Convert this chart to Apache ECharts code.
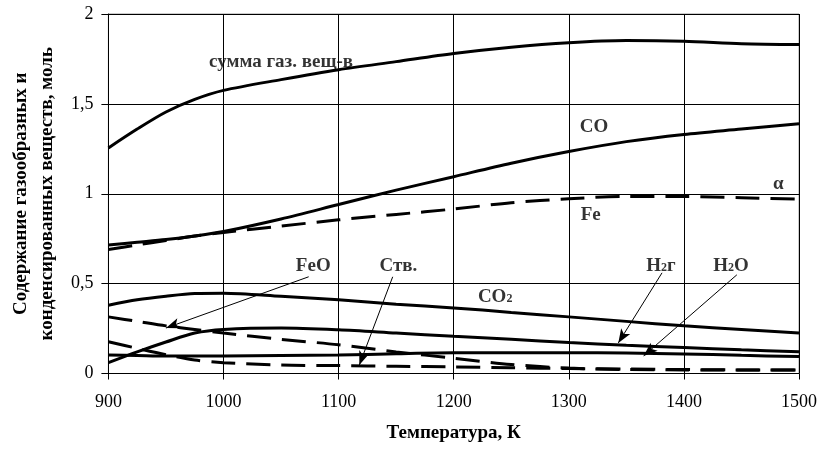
<!DOCTYPE html>
<html><head><meta charset="utf-8">
<script src="https://cdn.jsdelivr.net/npm/echarts@6/dist/echarts.min.js"></script>
<style>html,body{margin:0;padding:0;background:#fff}#c{width:822px;height:453px}</style>
</head><body><div id="c"></div>
<script>
const temps = [900, 925, 950, 975, 1000, 1050, 1100, 1150, 1200, 1250, 1300, 1350, 1400, 1450, 1500];
const sumGas = [1.255, 1.36, 1.455, 1.525, 1.575, 1.635, 1.69, 1.735, 1.78, 1.815, 1.84, 1.852, 1.848, 1.835, 1.83];
const co     = [0.715, 0.73, 0.745, 0.765, 0.79, 0.86, 0.94, 1.02, 1.095, 1.17, 1.235, 1.29, 1.33, 1.36, 1.39];
const fe     = [0.69, 0.715, 0.74, 0.765, 0.785, 0.82, 0.855, 0.885, 0.915, 0.95, 0.972, 0.985, 0.985, 0.978, 0.97];
const co2    = [0.38, 0.41, 0.43, 0.445, 0.447, 0.43, 0.41, 0.385, 0.365, 0.34, 0.315, 0.29, 0.265, 0.245, 0.225];
const h2g    = [0.06, 0.12, 0.175, 0.225, 0.245, 0.253, 0.243, 0.225, 0.207, 0.19, 0.172, 0.157, 0.144, 0.132, 0.121];
const h2o    = [0.103, 0.1, 0.097, 0.097, 0.097, 0.1, 0.103, 0.11, 0.115, 0.115, 0.116, 0.114, 0.109, 0.101, 0.094];
const feo    = [0.315, 0.29, 0.265, 0.245, 0.225, 0.19, 0.16, 0.12, 0.085, 0.05, 0.03, 0.022, 0.02, 0.02, 0.02];
const cSolid = [0.177, 0.14, 0.105, 0.075, 0.06, 0.047, 0.044, 0.04, 0.037, 0.032, 0.028, 0.025, 0.022, 0.02, 0.02];

const xTicks = [900, 1000, 1100, 1200, 1300, 1400, 1500];
const yTickLabels = {0: '0', 0.5: '0,5', 1: '1', 1.5: '1,5', 2: '2'};

// annotation labels (data coords)
const labels = [
  [1050, 1.735, 'сумма газ. вещ-в'],
  [1322, 1.373, 'CO'],
  [1482, 1.056, 'α'],
  [1319, 0.883, 'Fe'],
  [1078, 0.599, 'FeO'],
  [1152, 0.599, 'Ств.'],
  [1380, 0.599, '{a|H}{s|2}{a|г}'],
  [1441, 0.599, '{a|H}{s|2}{a|O}'],
  [1236, 0.426, '{a|CO}{s|2}']
];
// arrows: [fromT, fromV, toT, toV]
const arrows = [
  [1074, 0.538, 950, 0.253],
  [1147, 0.538, 1118, 0.047],
  [1381, 0.56, 1343, 0.17],
  [1446, 0.549, 1365, 0.098]
];

const FONT = '"Liberation Serif", "Times New Roman", serif';
const zip = a => temps.map((t, i) => [t, a[i]]);
function line(name, data, dashed) {
  return {
    name, type: 'line', data: zip(data), smooth: 0.3, symbol: 'none', silent: true,
    lineStyle: {color: '#000', width: 3, type: dashed ? [24, 11] : 'solid'}, z: 3
  };
}
const chart = echarts.init(document.getElementById('c'), null, {renderer: 'canvas'});
chart.setOption({
  animation: false,
  backgroundColor: '#fff',
  grid: {left: 103, right: 23, top: 14, bottom: 79.5, show: true, borderColor: '#999', borderWidth: 1},
  xAxis: {
    type: 'value', min: 900, max: 1500, interval: 100,
    axisLine: {show: true, lineStyle: {color: '#000', width: 1}},
    axisTick: {show: true, length: 6, lineStyle: {color: '#000'}},
    axisLabel: {color: '#000', fontFamily: FONT, fontSize: 18, margin: 20, formatter: v => String(v)},
    splitLine: {show: true, lineStyle: {color: '#000', width: 1}},
    name: 'Температура, К', nameLocation: 'middle', nameGap: 50,
    nameTextStyle: {color: '#000', fontFamily: FONT, fontSize: 19, fontWeight: 'bold'}
  },
  yAxis: {
    type: 'value', min: 0, max: 2, interval: 0.5,
    axisLine: {show: true, lineStyle: {color: '#000', width: 1}},
    axisTick: {show: true, length: 7, lineStyle: {color: '#000'}},
    axisLabel: {color: '#000', fontFamily: FONT, fontSize: 18, margin: 15,
      formatter: v => yTickLabels[v] !== undefined ? yTickLabels[v] : String(v).replace('.', ',')},
    splitLine: {show: true, lineStyle: {color: '#000', width: 1}},
    name: 'Содержание газообразных и\nконденсированных веществ, моль',
    nameLocation: 'middle', nameRotate: 90, nameGap: 45,
    nameTextStyle: {color: '#000', fontFamily: FONT, fontSize: 19, fontWeight: 'bold', lineHeight: 26}
  },
  series: [
    line('сумма газ. вещ-в', sumGas, false),
    line('CO', co, false),
    line('Fe', fe, true),
    line('CO2', co2, false),
    line('H2г', h2g, false),
    line('H2O', h2o, false),
    line('FeO', feo, true),
    line('Ств.', cSolid, true),
    {
      type: 'scatter', silent: true, symbolSize: 0, z: 5,
      data: labels.map(l => ({value: [l[0], l[1]], name: l[2]})),
      label: {
        show: true, position: 'inside', color: '#000', fontFamily: FONT, fontSize: 19, fontWeight: 'bold',
        formatter: p => p.name,
        rich: {
          a: {fontFamily: FONT, fontSize: 19, fontWeight: 'bold', color: '#000'},
          s: {fontFamily: FONT, fontSize: 12, fontWeight: 'bold', color: '#000', padding: [4, 0, 0, 0]}
        }
      },
      markLine: {
        silent: true, symbol: ['none', 'arrow'], symbolSize: [8, 14],
        lineStyle: {color: '#000', width: 1, type: 'solid'},
        label: {show: false},
        data: arrows.map(a => [{coord: [a[0], a[1]]}, {coord: [a[2], a[3]]}])
      }
    }
  ]
});
</script></body></html>
